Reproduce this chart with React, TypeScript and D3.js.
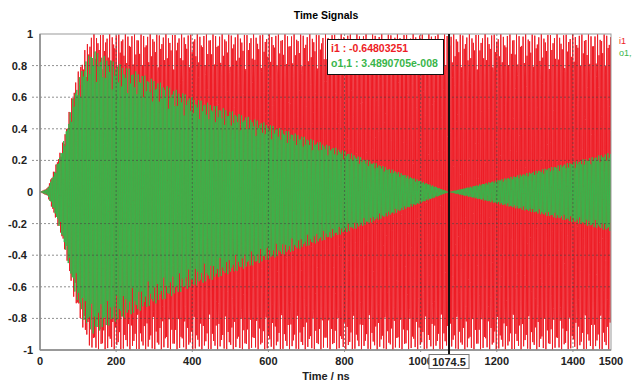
import React from "react";
import * as d3 from "d3";

// ---- data ----
const timeTicks = [0, 200, 400, 600, 800, 1000, 1200, 1400, 1500];
const valueTicks = [-1, -0.8, -0.6, -0.4, -0.2, 0, 0.2, 0.4, 0.6, 0.8, 1];

// envelope break points of the two time signals (ns, amplitude)
const i1EnvTime = [0, 20, 37, 55, 70, 87, 105, 120, 135, 1500];
const i1EnvAmp = [0, 0.025, 0.14, 0.27, 0.42, 0.65, 0.8, 0.92, 1.0, 1.0];
const o11EnvTime = [0, 20, 37, 55, 70, 87, 105, 120, 140, 200, 400, 800, 1074.5, 1500];
const o11EnvAmp = [0, 0.02, 0.12, 0.25, 0.4, 0.6, 0.74, 0.84, 0.9, 0.82, 0.6, 0.26, 0, 0.25];

const carrierGHz = 0.291;
const sampleNs = 0.75;

const cursorTime = 1074.5;
const cursorI1 = "-0.64803251";
const cursorO11 = "3.4890705e-008";

const RED = "#ee1c25";
const GREEN = "#39b54a";

function buildSignal(envT: number[], envA: number[], phase: number) {
  const env = d3.scaleLinear().domain(envT).range(envA).clamp(true);
  const n = Math.floor(1500 / sampleNs);
  const pts: [number, number][] = [];
  for (let i = 0; i <= n; i++) {
    const t = i * sampleNs;
    pts.push([t, env(t) * Math.sin(2 * Math.PI * carrierGHz * t + phase)]);
  }
  return pts;
}

export default function App() {
  const W = 632, H = 380;
  const x = d3.scaleLinear().domain([0, 1500]).range([40, 611]);
  const y = d3.scaleLinear().domain([-1, 1]).range([350, 34]);
  const line = d3.line<[number, number]>().x(d => x(d[0])).y(d => y(d[1]));
  const red = buildSignal(i1EnvTime, i1EnvAmp, 0);
  const green = buildSignal(o11EnvTime, o11EnvAmp, 0.9);
  const font = "'Liberation Sans', Arial, sans-serif";
  const cx = x(cursorTime);
  return (
    <svg width={W} height={H} style={{ position: "absolute", left: 0, top: 0, background: "#fff" }} fontFamily={font}>
      <defs>
        <clipPath id="plot">
          <rect x={40} y={34} width={571} height={316} />
        </clipPath>
      </defs>
      <text x={326} y={19} textAnchor="middle" fontSize={10.5} fontWeight="bold">Time Signals</text>
      <g clipPath="url(#plot)">
        <path d={line(red) || ""} fill="none" stroke={RED} strokeWidth={1} />
        <path d={line(green) || ""} fill="none" stroke={GREEN} strokeWidth={1} />
      </g>
      {/* grid */}
      {valueTicks.filter(v => Math.abs(v) < 1 && v !== 0).map(v => (
        <line key={"h" + v} x1={32} x2={611} y1={y(v)} y2={y(v)} stroke="#444" strokeOpacity={0.6} strokeDasharray="2,2" />
      ))}
      {timeTicks.filter(t => t > 0 && t < 1500).map(t => (
        <line key={"v" + t} x1={x(t)} x2={x(t)} y1={34} y2={353} stroke="#444" strokeOpacity={0.6} strokeDasharray="2,2" />
      ))}
      {/* frame */}
      <rect x={40} y={34} width={571} height={316} fill="none" stroke="#999" strokeWidth={1} />
      <line x1={40} x2={40} y1={34} y2={350} stroke="#888" strokeWidth={1.5} />
      <line x1={40} x2={611} y1={350} y2={350} stroke="#888" strokeWidth={1.5} />
      {/* y labels */}
      {valueTicks.map(v => (
        <text key={"yl" + v} x={Number.isInteger(v) ? 33 : 27} y={y(v) + 4} textAnchor="end" fontSize={11} fontWeight="bold" fill="#222">
          {String(v)}
        </text>
      ))}
      {/* x labels */}
      {timeTicks.map(t => (
        <text key={"xl" + t} x={x(t)} y={365} textAnchor="middle" fontSize={11} fontWeight="bold" fill="#222">
          {String(t)}
        </text>
      ))}
      <text x={326} y={380} textAnchor="middle" fontSize={11} fontWeight="bold" fill="#222">Time / ns</text>
      {/* cursor */}
      <line x1={cx} x2={cx} y1={34} y2={354} stroke="#111" strokeWidth={2} />
      <rect x={cx - 20} y={354.5} width={40} height={14} fill="#fff" stroke="#777" strokeWidth={1} />
      <text x={cx} y={366} textAnchor="middle" fontSize={11} fontWeight="bold" fill="#222">{String(cursorTime)}</text>
      {/* tooltip */}
      <rect x={327.5} y={39.5} width={116} height={35} fill="#fff" stroke="#111" strokeWidth={1} />
      <text x={331} y={52} fontSize={10.5} fontWeight="bold" fill={RED}>{"i1 : " + cursorI1}</text>
      <text x={331} y={67} fontSize={10.5} fontWeight="bold" fill={GREEN}>{"o1,1 : " + cursorO11}</text>
      {/* legend */}
      <text x={619} y={44} fontSize={9} fill={RED}>i1</text>
      <text x={619} y={56} fontSize={9} fill={GREEN}>o1,1</text>
    </svg>
  );
}
